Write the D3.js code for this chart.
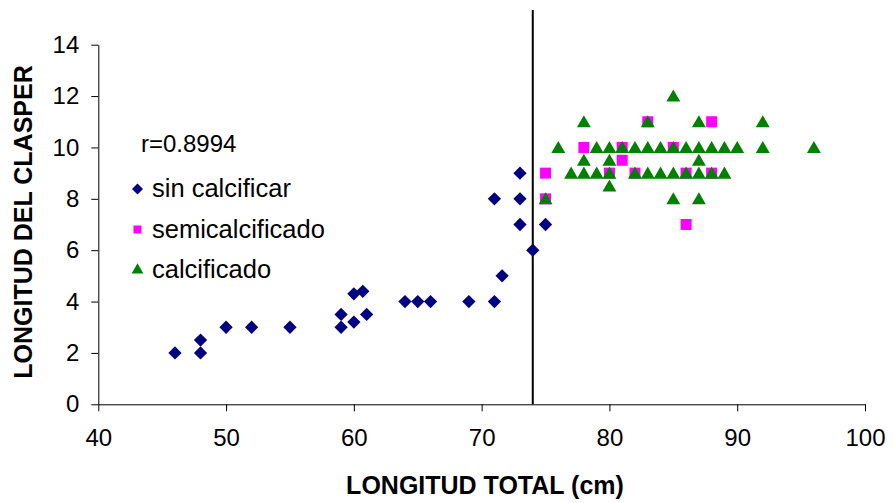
<!DOCTYPE html>
<html>
<head>
<meta charset="utf-8">
<script src="https://cdn.jsdelivr.net/npm/d3@7"></script>
<style>
  body { margin: 0; background: #fff; }
  text { font-family: "Liberation Sans", Arial, sans-serif; }
</style>
</head>
<body>
<svg id="scatter"></svg>
<script>
(function(){

    // sin calcificar (diamonds)
    var sinX = [46, 48, 48, 50, 52, 55, 59, 59, 60, 61, 60, 60.7, 64, 65, 66, 69, 71, 71.6, 71, 73, 73, 73, 74, 75];
    var sinY = [2, 2, 2.5, 3, 3, 3, 3, 3.5, 3.2, 3.5, 4.3, 4.4, 4, 4, 4, 4, 4, 5, 8, 9, 8, 7, 6, 7];

    // semicalcificado (squares)
    var semiX = [83, 88, 78, 81, 85, 81, 75, 80, 82, 86, 88, 75, 86];
    var semiY = [11, 11, 10, 10, 10, 9.5, 9, 9, 9, 9, 9, 8, 7];

    // calcificado (triangles)
    var calcX = [85,
                 78, 83, 87, 92,
                 76, 79, 80, 81, 82, 83, 84, 85, 86, 87, 88, 89, 90, 92, 96,
                 78, 80, 87,
                 77, 78, 79, 80, 82, 83, 84, 85, 86, 87, 88, 89,
                 80,
                 75, 85, 87];
    var calcY = [12,
                 11, 11, 11, 11,
                 10, 10, 10, 10, 10, 10, 10, 10, 10, 10, 10, 10, 10, 10, 10,
                 9.5, 9.5, 9.5,
                 9, 9, 9, 9, 9, 9, 9, 9, 9, 9, 9, 9,
                 8.5,
                 8, 8, 8];

    var xTicks = [40, 50, 60, 70, 80, 90, 100];
    var yTicks = [0, 2, 4, 6, 8, 10, 12, 14];
    var cutX = 74, cutTop = 15.35;
    var rText = "r=0.8994";
    var seriesNames = ["sin calcificar", "semicalcificado", "calcificado"];

    var W = 893, H = 503;
    var margin = {top: 44.7, right: 28, bottom: 98.7, left: 98.3};
    var width = W - margin.left - margin.right;
    var height = H - margin.top - margin.bottom;

    var root = d3.select("svg#scatter")
        .attr("width", W)
        .attr("height", H);

    var svg = root.append("g")
        .attr("transform", "translate(" + margin.left + "," + margin.top + ")");

    var xScale = d3.scaleLinear().domain([40, 100]).range([0, width]);
    var yScale = d3.scaleLinear().domain([0, 14]).range([height, 0]);

    var xAxis = svg.append("g")
        .attr("transform", "translate(0," + height + ")")
        .call(d3.axisBottom(xScale).tickValues(xTicks).tickSize(7).tickSizeOuter(0).tickPadding(18));

    var yAxis = svg.append("g")
        .call(d3.axisLeft(yScale).tickValues(yTicks).tickSize(7).tickSizeOuter(0).tickPadding(12));

    [xAxis, yAxis].forEach(function(a) {
        a.selectAll("path, line").attr("stroke", "#000").attr("stroke-width", 1);
        a.selectAll("text")
            .style("font-family", "Liberation Sans, Arial, sans-serif")
            .style("font-size", "24px")
            .attr("fill", "#000");
    });

    // axis titles
    root.append("text")
        .attr("x", 485)
        .attr("y", 494)
        .attr("text-anchor", "middle")
        .style("font-size", "25px")
        .style("font-weight", "bold")
        .text("LONGITUD TOTAL (cm)");

    root.append("text")
        .attr("transform", "translate(32," + 222 + ") rotate(-90)")
        .attr("text-anchor", "middle")
        .style("font-size", "25px")
        .style("font-weight", "bold")
        .text("LONGITUD DEL CLASPER");

    // vertical separator
    svg.append("line")
        .attr("x1", xScale(cutX)).attr("x2", xScale(cutX))
        .attr("y1", yScale(0)).attr("y2", yScale(cutTop))
        .attr("stroke", "#000")
        .attr("stroke-width", 2);

    var diamond = d3.symbol().type(d3.symbolSquare).size(88);
    var square = d3.symbol().type(d3.symbolSquare).size(121);
    var triangle = d3.symbol().type(d3.symbolTriangle).size(84);

    svg.append("g")
        .selectAll("path")
        .data(d3.zip(sinX, sinY))
        .enter()
        .append("path")
        .attr("d", diamond)
        .attr("transform", function(d) { return "translate(" + xScale(d[0]) + "," + yScale(d[1]) + ") rotate(45)"; })
        .attr("fill", "#000080");

    svg.append("g")
        .selectAll("path")
        .data(d3.zip(semiX, semiY))
        .enter()
        .append("path")
        .attr("d", square)
        .attr("transform", function(d) { return "translate(" + xScale(d[0]) + "," + yScale(d[1]) + ")"; })
        .attr("fill", "#FF00FF");

    svg.append("g")
        .selectAll("path")
        .data(d3.zip(calcX, calcY))
        .enter()
        .append("path")
        .attr("d", triangle)
        .attr("transform", function(d) { return "translate(" + xScale(d[0]) + "," + (yScale(d[1]) + 1.5) + ")"; })
        .attr("fill", "#008000");

    // legend
    root.append("text")
        .attr("x", 141)
        .attr("y", 152)
        .style("font-size", "24px")
        .text(rText);

    var legendY = [188, 228.5, 269];
    var legendSym = [
        {d: d3.symbol().type(d3.symbolSquare).size(60)(), rot: 45, fill: "#000080"},
        {d: d3.symbol().type(d3.symbolSquare).size(64)(), rot: 0, fill: "#FF00FF"},
        {d: d3.symbol().type(d3.symbolTriangle).size(60)(), rot: 0, fill: "#008000"}
    ];

    var leg = root.append("g")
        .selectAll("g")
        .data(seriesNames)
        .enter()
        .append("g")
        .attr("transform", function(d, i) { return "translate(0," + legendY[i] + ")"; });

    leg.append("path")
        .attr("d", function(d, i) { return legendSym[i].d; })
        .attr("transform", function(d, i) { return "translate(137.5,1) rotate(" + legendSym[i].rot + ")"; })
        .attr("fill", function(d, i) { return legendSym[i].fill; });

    leg.append("text")
        .attr("x", 152)
        .attr("y", 9)
        .style("font-size", "25.5px")
        .text(function(d) { return d; });

})();
</script>
</body>
</html>
